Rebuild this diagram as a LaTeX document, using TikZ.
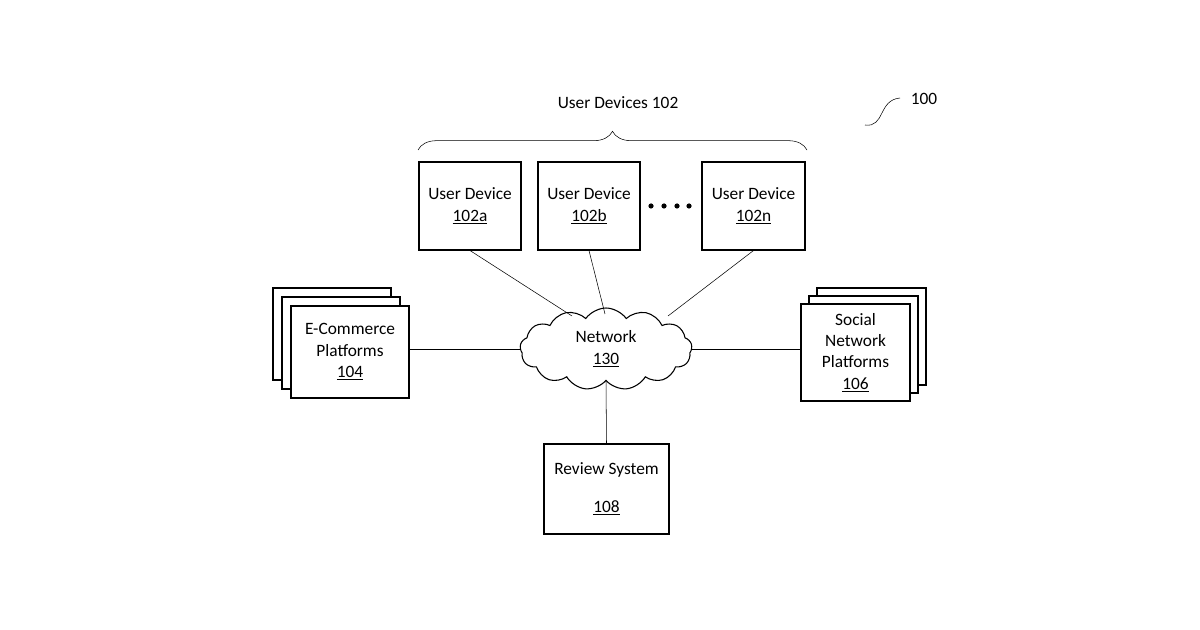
\documentclass[tikz,border=0pt]{standalone}
\usepackage{fontspec}
\setmainfont{Carlito}
\usetikzlibrary{shapes.symbols,decorations.pathreplacing}
\tikzset{
  box/.style={draw,thick,fill=white,align=center,font=\fontsize{13}{16}\selectfont},
  link/.style={draw,thin}
}
\begin{document}
\begin{tikzpicture}[x=0.75pt,y=0.75pt,yscale=-1,xscale=1]
\useasboundingbox (0,0) rectangle (1200,630);
			% user devices
			\node[box,minimum width=102*0.75pt,minimum height=88*0.75pt] (ua) at (470,206) {User Device\\\underline{102a}};
			\node[box,minimum width=102*0.75pt,minimum height=88*0.75pt] (ub) at (589,206) {User Device\\\underline{102b}};
			\node[box,minimum width=103*0.75pt,minimum height=88*0.75pt] (un) at (753.5,206) {User Device\\\underline{102n}};
			\foreach \x in {651,664,677,689} \fill (\x,206) circle (2.6);
			\draw[thin,decorate,decoration={brace,amplitude=14pt}] (418,150) -- (807,150);
			\node[font=\fontsize{13}{16}\selectfont] (udl) at (618,103) {User Devices 102};
			% label 100
			\node[font=\fontsize{13}{16}\selectfont] (lbl) at (924,99) {100};
			\draw (865,125) .. controls (885,128) and (878,100) .. (900,98);
			% cloud
			\node[cloud,draw,thick,fill=white,cloud puffs=13,cloud puff arc=110,aspect=2.2,minimum width=172*0.75pt,minimum height=82*0.75pt,align=center,font=\fontsize{13}{16}\selectfont] (net) at (606,349) {Network\\\underline{130}};
			% e-commerce stack
			\node[box,minimum width=118*0.75pt,minimum height=92*0.75pt] (ec2) at (332,334) {};
			\node[box,minimum width=118*0.75pt,minimum height=92*0.75pt] (ec1) at (341,343) {};
			\node[box,minimum width=118*0.75pt,minimum height=92*0.75pt] (ec) at (350,352) {E-Commerce\\Platforms\\\underline{104}};
			% social stack
			\node[box,minimum width=109*0.75pt,minimum height=97*0.75pt] (sn2) at (871.5,336.5) {};
			\node[box,minimum width=109*0.75pt,minimum height=97*0.75pt] (sn1) at (863.5,344.5) {};
			\node[box,minimum width=109*0.75pt,minimum height=97*0.75pt] (sn) at (855.5,352.5) {Social\\Network\\Platforms\\\underline{106}};
			% review
			\node[box,minimum width=125*0.75pt,minimum height=90*0.75pt] (rs) at (606.5,489) {Review System\\[12pt]\underline{108}};
			% links
			\draw[link] (ua.south) -- (572,316);
			\draw[link] (ub.south) -- (605,314);
			\draw[link] (un.south) -- (668,316);
			\draw[link] (net.west -| ec.east) -- (net.west);
			\draw[link] (net.east -| sn.west) -- (net.east);
			\draw[link] (rs.north) -- (net.south);
\end{tikzpicture}
\end{document}
